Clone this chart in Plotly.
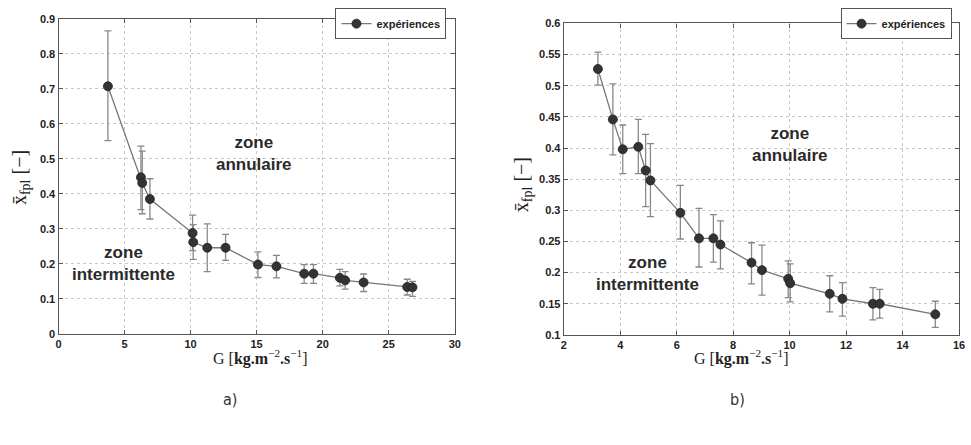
import plotly.graph_objects as go

# Panel a)
ga = [3.74, 6.24, 6.34, 6.92, 10.15, 10.2, 11.26, 12.65, 15.1, 16.5, 18.6, 19.3, 21.3, 21.7, 23.1, 26.4, 26.8]
xa = [0.707, 0.447, 0.431, 0.385, 0.288, 0.262, 0.246, 0.246, 0.198, 0.193, 0.172, 0.172, 0.160, 0.153, 0.147, 0.134, 0.133]
xa_hi = [0.865, 0.536, 0.522, 0.443, 0.339, 0.312, 0.314, 0.284, 0.234, 0.224, 0.198, 0.198, 0.184, 0.178, 0.171, 0.156, 0.150]
xa_lo = [0.552, 0.355, 0.343, 0.328, 0.238, 0.213, 0.178, 0.210, 0.161, 0.160, 0.144, 0.144, 0.137, 0.128, 0.121, 0.111, 0.107]

# Panel b)
gb = [3.21, 3.74, 4.09, 4.64, 4.90, 5.07, 6.13, 6.79, 7.30, 7.55, 8.65, 9.02, 9.95, 10.02, 11.42, 11.87, 12.95, 13.19, 15.16]
xb = [0.527, 0.446, 0.398, 0.402, 0.364, 0.348, 0.296, 0.255, 0.255, 0.245, 0.216, 0.204, 0.190, 0.183, 0.166, 0.158, 0.150, 0.150, 0.133]
xb_hi = [0.554, 0.503, 0.437, 0.446, 0.422, 0.407, 0.340, 0.303, 0.293, 0.283, 0.248, 0.244, 0.219, 0.214, 0.195, 0.184, 0.176, 0.173, 0.154]
xb_lo = [0.501, 0.389, 0.359, 0.359, 0.306, 0.290, 0.254, 0.209, 0.217, 0.206, 0.182, 0.164, 0.160, 0.153, 0.137, 0.130, 0.124, 0.127, 0.112]

ticks_ax = [0, 5, 10, 15, 20, 25, 30]
ticks_ay = [0, 0.1, 0.2, 0.3, 0.4, 0.5, 0.6, 0.7, 0.8, 0.9]
ticks_bx = [2, 4, 6, 8, 10, 12, 14, 16]
ticks_by = [0.1, 0.15, 0.2, 0.25, 0.3, 0.35, 0.4, 0.45, 0.5, 0.55, 0.6]
labels_ax = ["0", "5", "10", "15", "20", "25", "30"]
labels_ay = ["0", "0.1", "0.2", "0.3", "0.4", "0.5", "0.6", "0.7", "0.8", "0.9"]
labels_bx = ["2", "4", "6", "8", "10", "12", "14", "16"]
labels_by = ["0.1", "0.15", "0.2", "0.25", "0.3", "0.35", "0.4", "0.45", "0.5", "0.55", "0.6"]

series_name = "expériences"
x_title = "G [<b>kg.m</b><sup>−2</sup><b>.s</b><sup>−1</sup>]"
y_title = "x̄<sub>fpl</sub> [−]"

mcol = "#333333"
lcol = "#777777"
ecol = "#888888"

fig = go.Figure()

def add_series(g, v, hi, lo, xaxis, yaxis, legend):
    fig.add_trace(go.Scatter(
        x=g, y=v, mode="lines+markers", name="<b>" + series_name + "</b>",
        xaxis=xaxis, yaxis=yaxis, legend=legend,
        line=dict(color=lcol, width=1.3),
        marker=dict(color=mcol, size=9, line=dict(color="#222", width=0.8)),
        error_y=dict(type="data", symmetric=False,
                     array=[h - y for h, y in zip(hi, v)],
                     arrayminus=[y - l for l, y in zip(lo, v)],
                     color=ecol, thickness=1.3, width=3.5),
    ))

add_series(ga, xa, xa_hi, xa_lo, "x", "y", "legend")
add_series(gb, xb, xb_hi, xb_lo, "x2", "y2", "legend2")

tickfont = dict(family="Liberation Sans, Arial, sans-serif", size=11, color="#222")
axcommon = dict(showline=True, linecolor="#555", linewidth=1.2, mirror="allticks",
                ticks="inside", ticklen=4, tickcolor="#555",
                showgrid=True, gridcolor="#c8c8c8", griddash="dot", gridwidth=1,
                zeroline=False, tickfont=tickfont)

def bold(lst):
    return ["<b>" + s + "</b>" for s in lst]

legfont = dict(family="Liberation Sans, Arial, sans-serif", size=11, color="#222")
fig.update_layout(
    width=971, height=445,
    margin=dict(l=0, r=0, t=0, b=0),
    paper_bgcolor="white", plot_bgcolor="white",
    showlegend=True,
    xaxis=dict(domain=[0.0577, 0.4696], range=[0, 30], tickvals=ticks_ax,
               ticktext=bold(labels_ax), anchor="y", **axcommon),
    yaxis=dict(domain=[0.2427, 0.9708], range=[0, 0.9], tickvals=ticks_ay,
               ticktext=bold(labels_ay), anchor="x", **axcommon),
    xaxis2=dict(domain=[0.5829, 0.9938], range=[2, 16], tickvals=ticks_bx,
                ticktext=bold(labels_bx), anchor="y2", **axcommon),
    yaxis2=dict(domain=[0.2404, 0.9596], range=[0.1, 0.6], tickvals=ticks_by,
                ticktext=bold(labels_by), anchor="x2", **axcommon),
    legend=dict(x=0.461, y=0.995, xanchor="right", yanchor="top",
                bgcolor="white", bordercolor="#555", borderwidth=1,
                font=legfont, itemwidth=30, tracegroupgap=0),
    legend2=dict(x=0.986, y=0.995, xanchor="right", yanchor="top",
                 bgcolor="white", bordercolor="#555", borderwidth=1,
                 font=legfont, itemwidth=30, tracegroupgap=0),
)

zfont = dict(family="Liberation Sans, Arial, sans-serif", size=17, color="#2a2a2a")
anns = [
    dict(text="<b>zone<br>annulaire</b>", x=14.8, y=0.515, xref="x", yref="y", font=zfont),
    dict(text="<b>zone<br>intermittente</b>", x=4.95, y=0.2, xref="x", yref="y", font=zfont),
    dict(text="<b>zone<br>annulaire</b>", x=10.03, y=0.405, xref="x2", yref="y2", font=zfont),
    dict(text="<b>zone<br>intermittente</b>", x=4.98, y=0.198, xref="x2", yref="y2", font=zfont),
]
tfont = dict(family="Liberation Serif, DejaVu Serif, serif", size=16, color="#222")
yfont = dict(family="Liberation Serif, DejaVu Serif, serif", size=20, color="#222")
anns += [
    dict(text=x_title, x=260 / 971, y=1 - 361 / 445, xref="paper", yref="paper", font=tfont),
    dict(text=x_title, x=745 / 971, y=1 - 361 / 445, xref="paper", yref="paper", font=tfont),
    dict(text=y_title, x=17 / 971, y=1 - 176 / 445, xref="paper", yref="paper", font=yfont, textangle=-90),
    dict(text=y_title, x=524 / 971, y=1 - 184 / 445, xref="paper", yref="paper", font=yfont, textangle=-90),
]
lfont = dict(family="DejaVu Sans Condensed, Open Sans, sans-serif", size=16, color="#333")
anns += [
    dict(text="a)", x=229 / 971, y=1 - 404 / 445, xref="paper", yref="paper", font=lfont),
    dict(text="b)", x=741 / 971, y=1 - 404 / 445, xref="paper", yref="paper", font=lfont),
]
for a in anns:
    a.update(showarrow=False, xanchor="center", yanchor="middle", align="center")
fig.update_layout(annotations=anns)

fig.write_html("out.html")
